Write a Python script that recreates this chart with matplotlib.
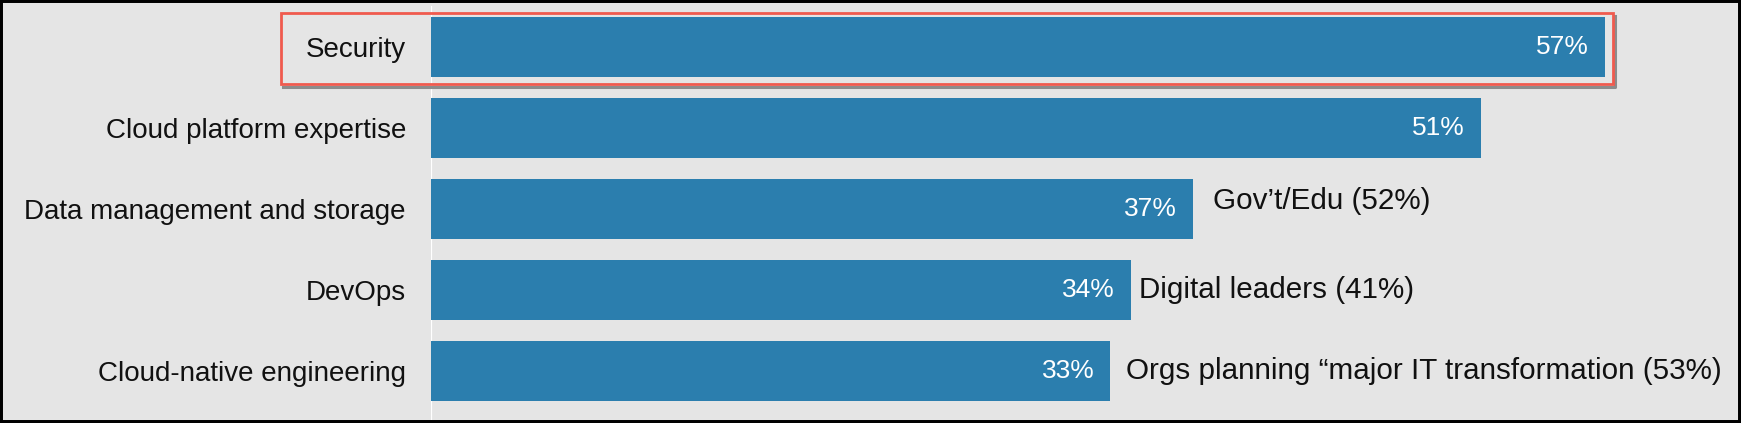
import matplotlib.pyplot as plt
from matplotlib.patches import Rectangle
from matplotlib.lines import Line2D

plt.rcParams['font.family'] = ['Liberation Sans', 'DejaVu Sans']

# data
categories = ["Security", "Cloud platform expertise", "Data management and storage",
              "DevOps", "Cloud-native engineering"]
values = [57, 51, 37, 34, 33]
value_labels = ["57%", "51%", "37%", "34%", "33%"]
notes = {2: "Gov\u2019t/Edu (52%)",
         3: "Digital leaders (41%)",
         4: "Orgs planning \u201cmajor IT transformation (53%)"}

W, H = 1741, 423
bg = '#e5e5e5'
bar_color = '#2b7eae'

fig = plt.figure(figsize=(W / 100, H / 100), dpi=100)
fig.patch.set_facecolor(bg)

x0 = 431  # pixel of the zero line
ax = fig.add_axes([x0 / W, 0, (W - x0) / W, 1])
ax.set_facecolor(bg)
px_per_unit = 20.59
ax.set_xlim(0, (W - x0) / px_per_unit)
ax.set_ylim((H - 47) / 81, -47 / 81)

ypos = list(range(len(categories)))
ax.axvline(0, ymax=1 - 7 / H, color='white', lw=1.6, zorder=1)
ax.barh(ypos, values, height=0.74, color=bar_color, zorder=2)

for y, v, lab in zip(ypos, values, value_labels):
    ax.annotate(lab, (v, y), xytext=(-16, 0), textcoords='offset pixels',
                ha='right', va='center', color='white', fontsize=19, zorder=3)

note_offsets = {2: (20, 8), 3: (8, 0), 4: (16, 0)}
for i, txt in notes.items():
    ax.annotate(txt, (values[i], i), xytext=note_offsets[i], textcoords='offset pixels',
                ha='left', va='center', color='#111111', fontsize=21.3)

ax.set_yticks(ypos)
ax.set_yticklabels(categories, fontsize=20, color='#111111')
ax.tick_params(axis='y', length=0, pad=18)
ax.set_xticks([])
for s in ax.spines.values():
    s.set_visible(False)

# highlight box around the first row, shadow on the bottom and right edges
bx0, bx1, by0, by1 = 281, 1613, 13, 84
sx = [(bx0 + 2) / W, (bx1 + 2) / W, (bx1 + 2) / W]
sy = [1 - (by1 + 3) / H, 1 - (by1 + 3) / H, 1 - (by0 + 3) / H]
fig.lines.append(Line2D(sx, sy, transform=fig.transFigure, color='#8c8c8c',
                        lw=2.2, zorder=5))
fig.patches.append(Rectangle((bx0 / W, 1 - by1 / H), (bx1 - bx0) / W, (by1 - by0) / H,
                             transform=fig.transFigure, fill=False,
                             ec='#f05a4e', lw=2.0, zorder=6))

# black frame
fig.patches.append(Rectangle((0, 0), 1, 1, transform=fig.transFigure, fill=False,
                             ec='black', lw=4.3, zorder=10))

fig.savefig('out.png', dpi=100, facecolor=bg)
